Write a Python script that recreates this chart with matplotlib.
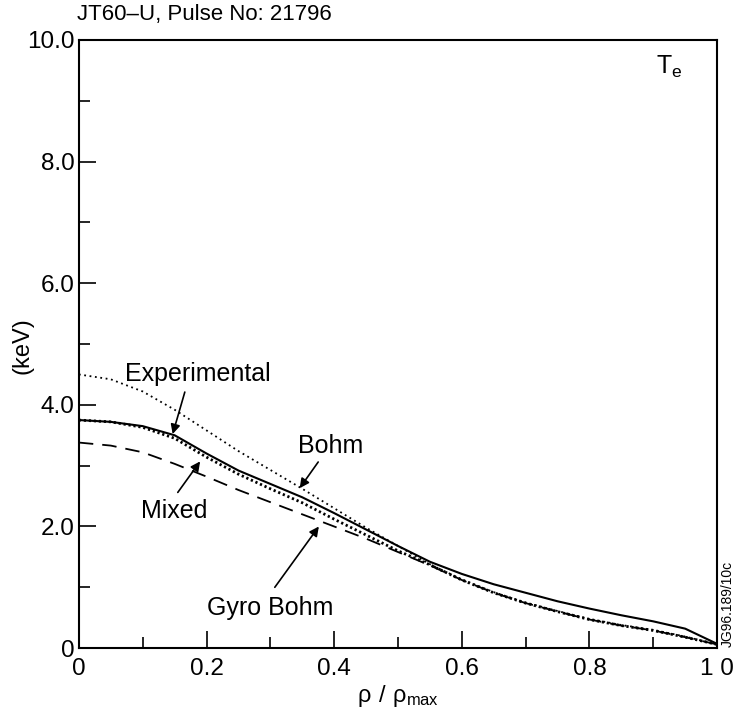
import matplotlib.pyplot as plt

plt.rcParams['font.family'] = ['Liberation Sans', 'DejaVu Sans']

# rho / rho_max
rho = [0.0, 0.05, 0.1, 0.15, 0.2, 0.25, 0.3, 0.35, 0.4, 0.45, 0.5,
       0.55, 0.6, 0.65, 0.7, 0.75, 0.8, 0.85, 0.9, 0.95, 1.0]

# Te in keV
te_exp = [3.75, 3.72, 3.65, 3.5, 3.2, 2.92, 2.7, 2.48, 2.22, 1.95, 1.68,
          1.42, 1.22, 1.05, 0.91, 0.77, 0.65, 0.54, 0.44, 0.32, 0.07]
te_bohm = [4.5, 4.42, 4.22, 3.92, 3.58, 3.24, 2.93, 2.62, 2.3, 1.98, 1.68,
           1.38, 1.13, 0.92, 0.75, 0.61, 0.48, 0.38, 0.3, 0.19, 0.06]
te_mixed = [3.75, 3.72, 3.63, 3.45, 3.14, 2.86, 2.62, 2.39, 2.12, 1.86, 1.6,
            1.37, 1.12, 0.91, 0.74, 0.6, 0.47, 0.37, 0.29, 0.18, 0.06]
te_gyro = [3.38, 3.33, 3.22, 3.03, 2.82, 2.6, 2.4, 2.2, 2.0, 1.8, 1.58,
           1.36, 1.12, 0.91, 0.74, 0.6, 0.47, 0.37, 0.29, 0.18, 0.06]

xticks = [0, 0.2, 0.4, 0.6, 0.8, 1.0]
xticklabels = ['0', '0.2', '0.4', '0.6', '0.8', '1 0']
yticks = [0, 2, 4, 6, 8, 10]
yticklabels = ['0', '2.0', '4.0', '6.0', '8.0', '10.0']

fig = plt.figure(figsize=(7.37, 7.13), dpi=100)
ax = fig.add_axes([0.107, 0.091, 0.866, 0.853])

ax.plot(rho, te_exp, color='black', lw=1.5, ls='-')
ax.plot(rho, te_bohm, color='black', lw=1.3, ls=(0, (1.0, 2.0)))
ax.plot(rho, te_mixed, color='black', lw=2.0, ls=(0, (0.8, 1.0)))
ax.plot(rho, te_gyro, color='black', lw=1.3, ls=(0, (8, 5)))

ax.set_xlim(0, 1)
ax.set_ylim(0, 10)
ax.set_xticks(xticks)
ax.set_xticklabels(xticklabels)
ax.set_yticks(yticks)
ax.set_yticklabels(yticklabels)
ax.set_xticks([0.1, 0.3, 0.5, 0.7, 0.9], minor=True)
ax.set_yticks([1, 3, 5, 7, 9], minor=True)
ax.tick_params(which='both', direction='in', labelsize=17.5, width=1.2)
ax.tick_params(which='major', length=12)
ax.tick_params(which='minor', length=8)
ax.tick_params(axis='x', which='major', pad=7)
ax.tick_params(axis='y', which='major', pad=3)
for s in ax.spines.values():
    s.set_linewidth(1.5)

ax.set_xlabel(r'$\mathregular{\rho\ /\ \rho_{max}}$', fontsize=17, labelpad=2)
fig.text(0.03, 0.515, '(keV)', fontsize=17, rotation=90, ha='center', va='center')
fig.text(0.105, 0.980, 'JT60\u2013U, Pulse No: 21796', fontsize=16, ha='left', va='center')
ax.text(0.905, 9.55, r'$\mathregular{T_e}$', fontsize=18, ha='left', va='center')
fig.text(0.987, 0.093, 'JG96.189/10c', fontsize=10, rotation=90, ha='center', va='bottom')

# Kurvenbeschriftungen mit Pfeilen
arrow = dict(arrowstyle='-|>', color='black', lw=1.2, mutation_scale=14, shrinkA=0, shrinkB=0)
ax.text(0.187, 4.51, 'Experimental', fontsize=18, ha='center', va='center')
ax.annotate('', xy=(0.147, 3.52), xytext=(0.166, 4.21), arrowprops=arrow)
ax.text(0.395, 3.32, 'Bohm', fontsize=18, ha='center', va='center')
ax.annotate('', xy=(0.346, 2.63), xytext=(0.375, 3.06), arrowprops=arrow)
ax.text(0.15, 2.26, 'Mixed', fontsize=18, ha='center', va='center')
ax.annotate('', xy=(0.19, 3.07), xytext=(0.155, 2.56), arrowprops=arrow)
ax.text(0.30, 0.66, 'Gyro Bohm', fontsize=18, ha='center', va='center')
ax.annotate('', xy=(0.376, 2.0), xytext=(0.307, 1.0), arrowprops=arrow)

fig.savefig('out.png', dpi=100)
